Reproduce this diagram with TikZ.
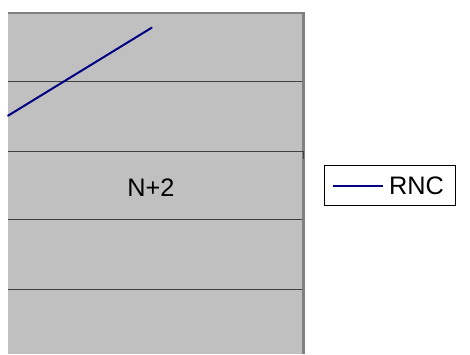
\documentclass[tikz,border=0pt]{standalone}
\usepackage{fontspec}
\setmainfont{Liberation Sans}
\definecolor{plotgray}{HTML}{C0C0C0}
\definecolor{framegray}{HTML}{808080}
\definecolor{gridgray}{HTML}{404040}
\definecolor{navyline}{HTML}{000080}
\tikzset{
  grid line/.style={draw=gridgray, line width=1.3pt},
  series/.style={draw=navyline, line width=2pt},
  lbl/.style={font=\fontsize{25.3}{30}\selectfont, text=black, inner sep=0pt},
}
\begin{document}
\begin{tikzpicture}[x=1pt,y=-1pt]
\useasboundingbox (0,0) rectangle (470,354);
% plot area
\fill[plotgray] (8,12) rectangle (303,354);
\fill[framegray] (8,12) rectangle (304.5,14);
\fill[framegray] (302,12) rectangle (304.5,354);
% grid lines
\foreach \y in {81.7,219.5,289.3} {\draw[grid line] (8,\y) -- (302,\y);}
\draw[grid line] (8,151.5) -- (303.5,151.5) -- (303.5,159);
% series
\coordinate (s0) at (8,115.7);
\coordinate (s1) at (151.7,27.7);
\draw[series, line cap=round] (s0) -- (s1);
% text
\node[lbl] (n2) at (151,188) {N+2};
% legend
\node[draw=black, line width=0.9pt, fill=white, minimum width=131pt, minimum height=39.5pt, inner sep=0pt] (leg) at (390.3,185.4) {};
\coordinate (l0) at (332.7,185.7);
\coordinate (l1) at (382.7,185.7);
\draw[series] (l0) -- (l1);
\node[lbl, anchor=west] (rnc) at (388.8,186) {RNC};
\end{tikzpicture}
\end{document}
